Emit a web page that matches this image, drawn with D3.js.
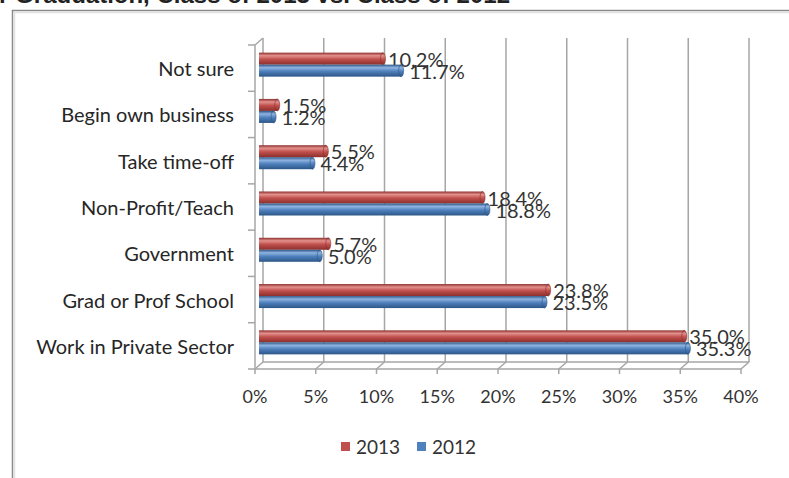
<!DOCTYPE html>
<html>
<head>
<meta charset="utf-8">
<script src="https://cdn.jsdelivr.net/npm/d3@7"></script>
<style>
  body { margin: 0; background: #fff; }
  text { font-family: Lato, "Open Sans", sans-serif; }
</style>
</head>
<body>
<div id="chart"></div>
<script>
// data
const categories = ['Not sure', 'Begin own business', 'Take time-off', 'Non-Profit/Teach',
  'Government', 'Grad or Prof School', 'Work in Private Sector'];
const values2013 = [10.2, 1.5, 5.5, 18.4, 5.7, 23.8, 35.0];
const values2012 = [11.7, 1.2, 4.4, 18.8, 5.0, 23.5, 35.3];
const ticks = [0, 5, 10, 15, 20, 25, 30, 35, 40];
const seriesNames = ['2013', '2012'];
const colors = { '2013': '#c0504d', '2012': '#4f81bd' };
const dark = { '2013': '#8c2f2c', '2012': '#2c5687' };
const light = { '2013': '#e3908d', '2012': '#8fb3e0' };

const W = 789, H = 478;
const svg = d3.select('#chart').append('svg').attr('width', W).attr('height', H);

// depth offset of the fake 3d box
const dx = 8, dy = -7;

const x = d3.scaleLinear().domain([0, 40]).range([255, 741]);
const y = d3.scaleBand().domain(categories).range([45, 369]);

// gradients for the cylinder look
const defs = svg.append('defs');
seriesNames.forEach(s => {
  const g = defs.append('linearGradient').attr('id', 'g' + s)
    .attr('x1', 0).attr('y1', 0).attr('x2', 0).attr('y2', 1);
  g.append('stop').attr('offset', '0%').attr('stop-color', dark[s]);
  g.append('stop').attr('offset', '25%').attr('stop-color', light[s]);
  g.append('stop').attr('offset', '55%').attr('stop-color', colors[s]);
  g.append('stop').attr('offset', '100%').attr('stop-color', dark[s]);
});

// title, mostly cut off at the top
svg.append('text')
  .attr('x', 510).attr('y', 3)
  .attr('text-anchor', 'end')
  .style('font-family', 'Liberation Sans, Arial, sans-serif')
  .style('font-weight', 'bold')
  .style('font-size', '24px')
  .attr('fill', '#222')
  .text('r Graduation, Class of 2013 vs. Class of 2012');

// chart frame
svg.append('path')
  .attr('d', `M12.5,${H} V10.5 H${W}`)
  .attr('fill', 'none').attr('stroke', '#8a8a8a').attr('stroke-width', 1.5);
svg.append('path')
  .attr('d', `M14.5,${H} V12.5 H${W}`)
  .attr('fill', 'none').attr('stroke', '#e2e2e2').attr('stroke-width', 1.5);

const grid = '#a6a6a6';
const yTop = y.range()[0], yBot = y.range()[1];

// back wall gridlines
svg.append('g').selectAll('line').data(ticks).join('line')
  .attr('x1', d => x(d) + dx).attr('x2', d => x(d) + dx)
  .attr('y1', yTop + dy).attr('y2', yBot + dy)
  .attr('stroke', grid).attr('stroke-width', 1.5);

// left wall
svg.append('path')
  .attr('d', `M${x(0)},${yBot} V${yTop} L${x(0) + dx},${yTop + dy}`)
  .attr('fill', 'none').attr('stroke', grid).attr('stroke-width', 1.5);

// floor
const floor = svg.append('g');
floor.append('line')
  .attr('x1', x(0)).attr('x2', x(40)).attr('y1', yBot).attr('y2', yBot)
  .attr('stroke', grid).attr('stroke-width', 1.5);
floor.append('line')
  .attr('x1', x(0) + dx).attr('x2', x(40) + dx).attr('y1', yBot + dy).attr('y2', yBot + dy)
  .attr('stroke', grid).attr('stroke-width', 1.5);
floor.selectAll('.depth').data(ticks).join('line').attr('class', 'depth')
  .attr('x1', d => x(d)).attr('x2', d => x(d) + dx)
  .attr('y1', yBot).attr('y2', yBot + dy)
  .attr('stroke', grid).attr('stroke-width', 1.5);
floor.selectAll('.tk').data(ticks).join('line').attr('class', 'tk')
  .attr('x1', d => x(d)).attr('x2', d => x(d))
  .attr('y1', yBot).attr('y2', yBot + 5)
  .attr('stroke', grid).attr('stroke-width', 1.5);

// category ticks on the left
const bounds = categories.map(c => y(c)).concat([yBot]);
svg.append('g').selectAll('line').data(bounds).join('line')
  .attr('x1', x(0) - 7).attr('x2', x(0))
  .attr('y1', d => d).attr('y2', d => d)
  .attr('stroke', grid).attr('stroke-width', 1.5);

// x tick labels
svg.append('g').selectAll('text').data(ticks).join('text')
  .attr('x', d => x(d)).attr('y', 403)
  .attr('text-anchor', 'middle')
  .style('font-size', '18px').attr('fill', '#333')
  .text(d => d + '%');

// category labels
svg.append('g').selectAll('text').data(categories).join('text')
  .attr('x', 234).attr('y', d => y(d) + y.bandwidth() / 2 + 8)
  .attr('text-anchor', 'end')
  .style('font-size', '20px').attr('fill', '#262626')
  .text(d => d);

// bars
const barH = 12;
const rows = categories.map((c, i) => ({ c, v: { '2013': values2013[i], '2012': values2012[i] } }));
seriesNames.forEach((s, k) => {
  const g = svg.append('g');
  const yy = d => y(d.c) + y.bandwidth() / 2 + dy / 2 - barH + k * barH;
  const x0 = x(0) + dx / 2;
  const xe = d => x(d.v[s]) + dx / 2;
  g.selectAll('rect').data(rows).join('rect')
    .attr('x', x0).attr('y', yy)
    .attr('width', d => Math.max(0, xe(d) - x0)).attr('height', barH)
    .attr('fill', `url(#g${s})`);
  g.selectAll('ellipse').data(rows).join('ellipse')
    .attr('cx', xe).attr('cy', d => yy(d) + barH / 2)
    .attr('rx', 2.5).attr('ry', barH / 2)
    .attr('fill', `url(#g${s})`).attr('stroke', dark[s]).attr('stroke-width', 0.6);
  g.selectAll('text').data(rows).join('text')
    .attr('x', d => xe(d) + 5 + k * 3).attr('y', d => yy(d) + barH + 2)
    .style('font-size', '20px').attr('fill', '#333')
    .text(d => d.v[s].toFixed(1) + '%');
});

// legend
const leg = svg.append('g');
const legX = { '2013': 341, '2012': 417 };
seriesNames.forEach(s => {
  leg.append('rect').attr('x', legX[s]).attr('y', 442).attr('width', 9).attr('height', 9)
    .attr('fill', colors[s]);
  leg.append('text').attr('x', legX[s] + 15).attr('y', 454)
    .style('font-size', '19px').attr('fill', '#333').text(s);
});
</script>
</body>
</html>
